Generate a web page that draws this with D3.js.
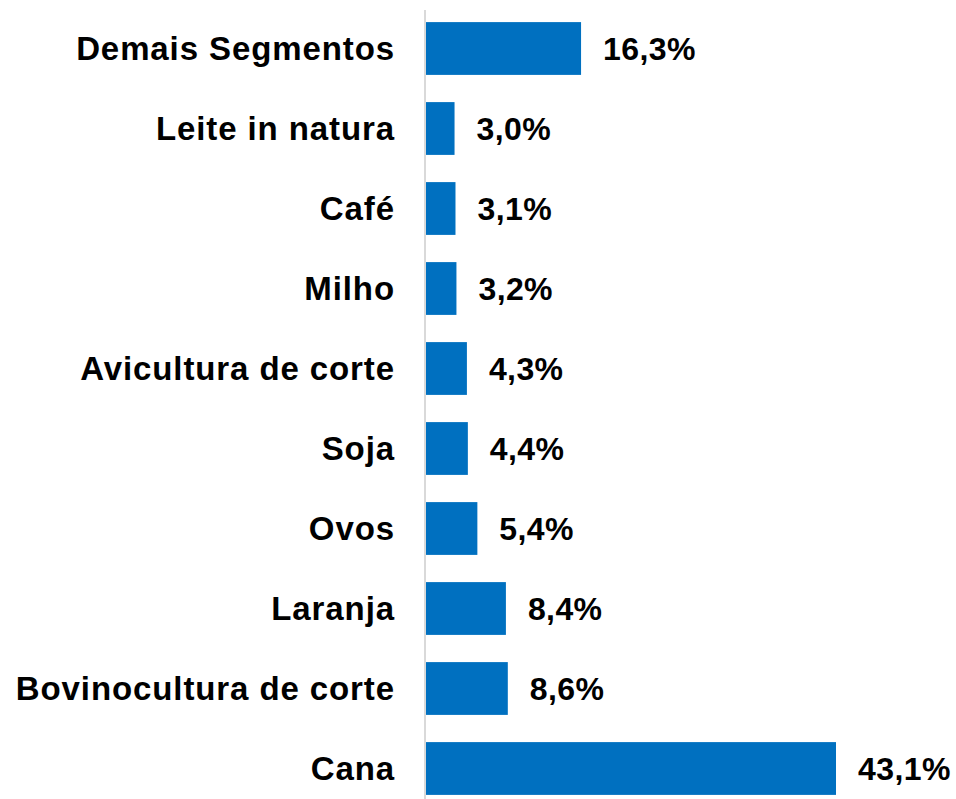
<!DOCTYPE html>
<html>
<head>
<meta charset="utf-8">
<script src="https://cdn.jsdelivr.net/npm/d3@7"></script>
<style>
  body { margin: 0; background: #fff; }
  text { font-family: "Liberation Sans", Arial, sans-serif; font-weight: bold; fill: #000; }
</style>
</head>
<body>
<div id="chart"></div>
<script>
// categories, top to bottom
var categories = ["Demais Segmentos", "Leite in natura", "Café", "Milho", "Avicultura de corte",
                  "Soja", "Ovos", "Laranja", "Bovinocultura de corte", "Cana"];
// share (%)
var values = [16.3, 3.0, 3.1, 3.2, 4.3, 4.4, 5.4, 8.4, 8.6, 43.1];

var width = 956, height = 799;

var svg = d3.select("#chart")
  .append("svg")
    .attr("width", width)
    .attr("height", height);

var x0 = 426;

// y band scale
var y = d3.scaleBand()
  .domain(categories)
  .range([8.5, 808.5])
  .paddingInner(0.34)
  .paddingOuter(0.17);

// x linear scale (px per %)
var x = d3.scaleLinear()
  .domain([0, 43.1])
  .range([x0, 836]);

var data = categories.map(function(c, i) { return { cat: c, val: values[i] }; });

// bars
svg.append("g")
  .selectAll("rect")
  .data(data)
  .enter().append("rect")
    .attr("x", x(0))
    .attr("y", function(d) { return y(d.cat); })
    .attr("width", function(d) { return x(d.val) - x(0); })
    .attr("height", y.bandwidth())
    .attr("fill", "#0070C0");

// vertical axis line
svg.append("line")
  .attr("x1", x0 - 1).attr("x2", x0 - 1)
  .attr("y1", 10).attr("y2", height)
  .attr("stroke", "#d9d9d9")
  .attr("stroke-width", 2);

// category labels
svg.append("g")
  .selectAll("text")
  .data(data)
  .enter().append("text")
    .attr("x", 395)
    .attr("y", function(d) { return y(d.cat) + y.bandwidth() / 2; })
    .attr("dy", "0.35em")
    .attr("text-anchor", "end")
    .style("font-size", "33px")
    .style("letter-spacing", "0.9px")
    .text(function(d) { return d.cat; });

// value labels
svg.append("g")
  .selectAll("text")
  .data(data)
  .enter().append("text")
    .attr("x", function(d) { return x(d.val) + 22; })
    .attr("y", function(d) { return y(d.cat) + y.bandwidth() / 2; })
    .attr("dy", "0.35em")
    .style("font-size", "32px")
    .style("letter-spacing", "0.4px")
    .text(function(d) { return d3.format(".1f")(d.val).replace(".", ",") + "%"; });
</script>
</body>
</html>
